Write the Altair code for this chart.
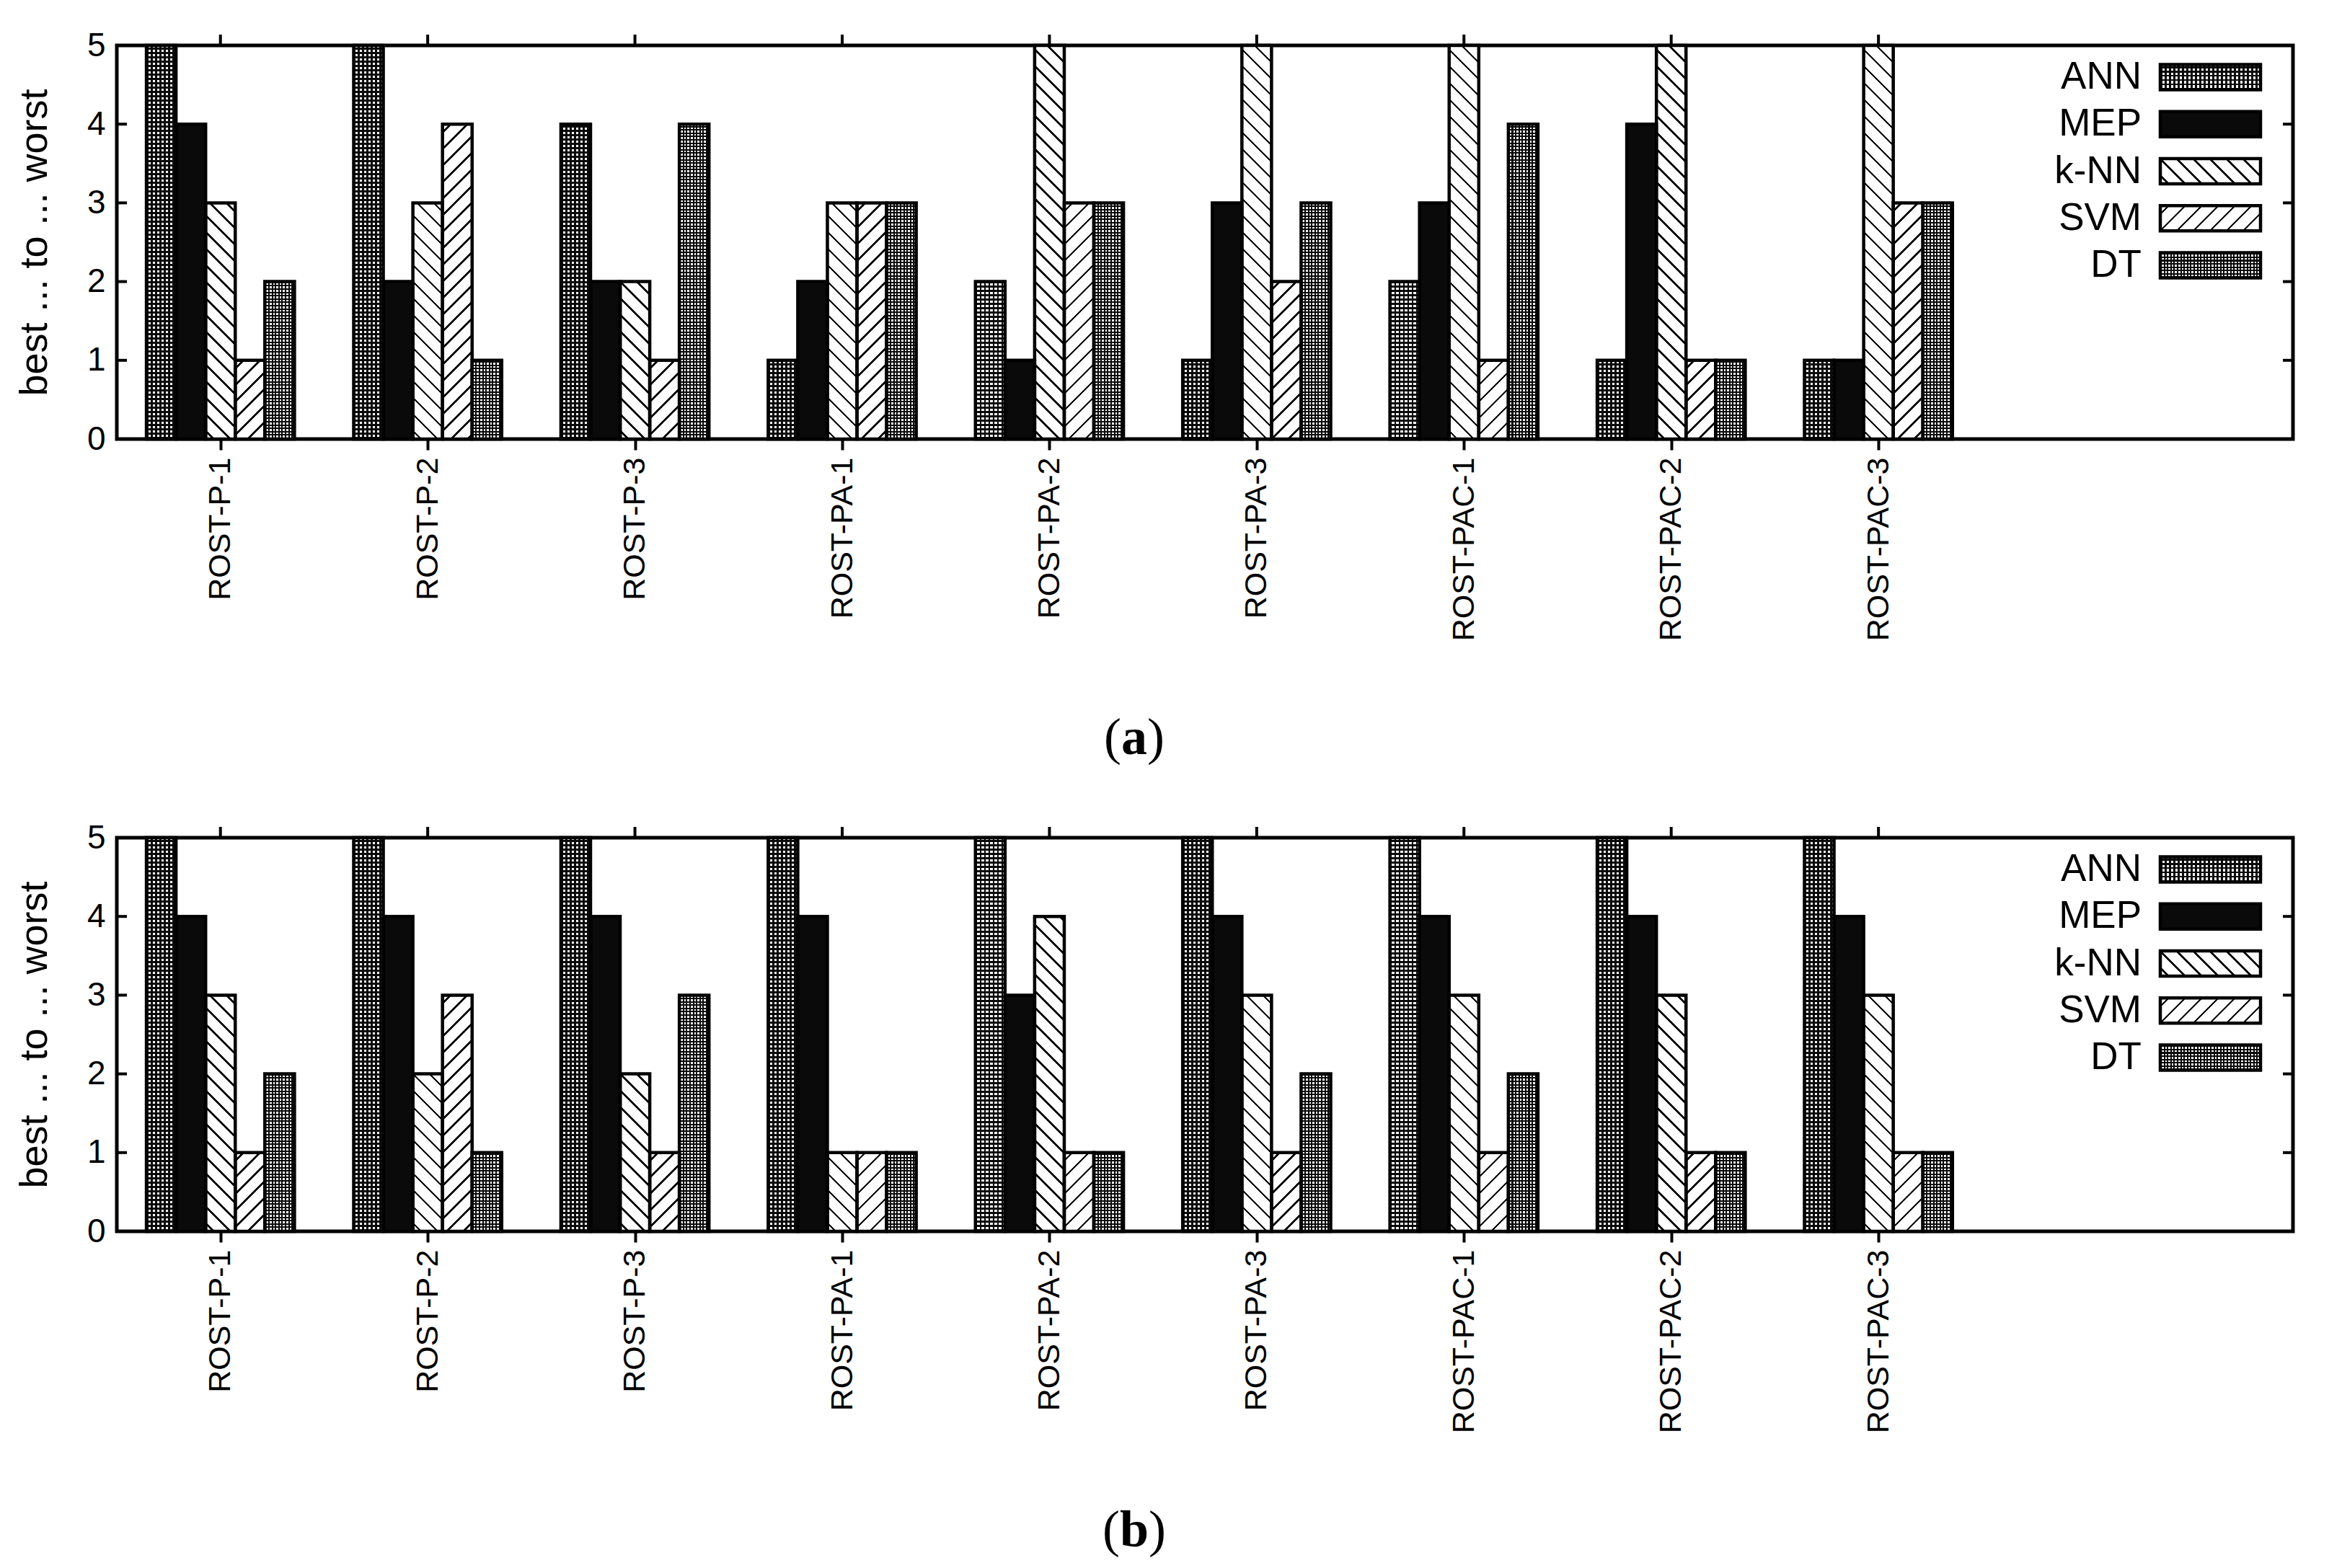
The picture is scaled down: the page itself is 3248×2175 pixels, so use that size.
import altair as alt

# ---------------- data ----------------
SERIES = ["ANN", "MEP", "k-NN", "SVM", "DT"]
DATASETS = ["ROST-P-1", "ROST-P-2", "ROST-P-3", "ROST-PA-1", "ROST-PA-2",
            "ROST-PA-3", "ROST-PAC-1", "ROST-PAC-2", "ROST-PAC-3"]

# panel (a)
A_ANN = [5, 5, 4, 1, 2, 1, 2, 1, 1]
A_MEP = [4, 2, 2, 2, 1, 3, 3, 4, 1]
A_KNN = [3, 3, 2, 3, 5, 5, 5, 5, 5]
A_SVM = [1, 4, 1, 3, 3, 2, 1, 1, 3]
A_DT = [2, 1, 4, 3, 3, 3, 4, 1, 3]

# panel (b)
B_ANN = [5, 5, 5, 5, 5, 5, 5, 5, 5]
B_MEP = [4, 4, 4, 4, 3, 4, 4, 4, 4]
B_KNN = [3, 2, 2, 1, 4, 3, 3, 3, 3]
B_SVM = [1, 3, 1, 1, 1, 1, 1, 1, 1]
B_DT = [2, 1, 3, 1, 1, 2, 2, 1, 1]

Y_TICKS = [0, 1, 2, 3, 4, 5]
Y_TITLE = "best ... to ... worst"

# ---------------- layout / style ----------------
PW, PH = 3018, 546
X_DOMAIN = [-0.5, 10.0]
NB = 7.0                      # 5 bars + gap of 2 bar widths per group
BAR_W = PW / (X_DOMAIN[1] - X_DOMAIN[0]) / NB
UNIT_H = PH / 5.0
SANS = "Liberation Sans"
SERIF = "Liberation Serif"
STROKE = 4.5
TICK = 14

XS = alt.Scale(domain=X_DOMAIN, nice=False, zero=False)
YS = alt.Scale(domain=[0, 5], nice=False, zero=True)

CLEAR = "rgba(255,255,255,0)"
WHITE = "#ffffff"
BLACK = "#0a0a0a"


def make_grad(lines, L, bg, fg, x1, y1, x2, y2):
    st = [(0.0, bg)]
    for a, b in lines:
        a = min(max(a, 0.0), L) / L
        b = min(max(b, 0.0), L) / L
        if b <= a:
            continue
        st += [(a, bg), (a, fg), (b, fg), (b, bg)]
    st.append((1.0, bg))
    return alt.LinearGradient(
        gradient="linear",
        stops=[alt.GradientStop(offset=round(o, 5), color=c) for o, c in st],
        x1=round(x1, 5), y1=round(y1, 5), x2=round(x2, 5), y2=round(y2, 5))


def hatch(W, H, kind, period=23.0, thick=3.4):
    L = W + H
    t = L / (W * W + H * H)
    lines = []
    c = period / 2.0
    while c - thick / 2 < L:
        lines.append((c - thick / 2, c + thick / 2))
        c += period
    if kind == "back":
        return make_grad(lines, L, WHITE, BLACK, 0, 1, t * W, 1 - t * H)
    return make_grad(lines, L, WHITE, BLACK, 0, 0, t * W, t * H)


def checker_v(W, p, a):
    lines = []
    c = 0.0
    while c < W:
        lines.append((c, c + (1 - a) * p))
        c += p
    return make_grad(lines, W, WHITE, BLACK, 0, 0, 1, 0)


def checker_h(H, p, a):
    lines = []
    c = 0.0
    while c < H:
        lines.append((c, c + (1 - a) * p))
        c += p
    return make_grad(lines, H, CLEAR, BLACK, 0, 1, 0, 0)


CHECK = {0: (6.0, 0.56), 4: (4.6, 0.56)}   # ANN, DT

LABEL_EXPR = "[" + ",".join("'%s'" % d for d in DATASETS) + "][datum.value]"

X_AXIS = alt.Axis(values=list(range(len(DATASETS))), labelExpr=LABEL_EXPR,
                  labelAngle=270, labelFont=SANS, labelFontSize=43,
                  labelColor="black", labelPadding=10, labelLimit=1000,
                  tickSize=15, tickWidth=4, tickColor="black", domain=False,
                  grid=False, labelFlush=False, labelOverlap=False, title=None)
Y_AXIS = alt.Axis(values=Y_TICKS, format="d", labelFont=SANS, labelFontSize=46,
                  labelColor="black", labelPadding=16, ticks=False, tickSize=0,
                  domain=False, grid=False, labelFlush=False,
                  title=Y_TITLE, titleFont=SANS, titleFontSize=54,
                  titleFontWeight="normal", titleColor="black", titleAngle=270,
                  titleX=-98, titleY=PH / 2, titleBaseline="alphabetic",
                  titleAlign="center")

# legend placement (pixels inside the plot)
LX0, LX1, LH = 2834, 2973, 35
LEG_Y0, LEG_DY = 44, 65.25
LTX = 2808

CAP_X, CAP_Y, CAP_SIZE = 1411, 983, 72


def rows(vals):
    out = []
    for si in range(len(SERIES)):
        for gi, v in enumerate(vals[si]):
            out.append({"g": gi, "s": si, "v": v})
    return out


def panel(vals, letter):
    data = alt.Data(values=rows(vals))

    def bars(expr, **mark):
        return (alt.Chart(data)
                .transform_calculate(x0="datum.g + (datum.s - 2.5) / %g" % NB,
                                     x1="datum.g + (datum.s - 1.5) / %g" % NB,
                                     y0="0")
                .transform_filter(expr)
                .mark_rect(**mark)
                .encode(x=alt.X("x0:Q", scale=XS, axis=X_AXIS), x2="x1:Q",
                        y=alt.Y("v:Q", scale=YS, axis=Y_AXIS), y2="y0:Q"))

    layers = []
    # MEP solid
    layers.append(bars("datum.s == 1", fill=BLACK))
    # checkered ANN / DT
    for si in (0, 4):
        p, a = CHECK[si]
        layers.append(bars("datum.s == %d" % si, fill=checker_v(BAR_W, p, a)))
        for v in sorted(set(vals[si])):
            layers.append(bars("datum.s == %d && datum.v == %d" % (si, v),
                               fill=checker_h(v * UNIT_H, p, a)))
    # hatched k-NN / SVM
    for si, kind in ((2, "back"), (3, "fwd")):
        for v in sorted(set(vals[si])):
            layers.append(bars("datum.s == %d && datum.v == %d" % (si, v),
                               fill=hatch(BAR_W, v * UNIT_H, kind)))
    # outlines
    layers.append(bars("true", fill="transparent", stroke="black",
                       strokeWidth=STROKE, strokeJoin="miter"))

    # inward y ticks (left and right), outward top x ticks
    tdata = alt.Data(values=[{"t": t} for t in Y_TICKS])
    layers.append(alt.Chart(tdata).mark_rule(color="black", strokeWidth=4).encode(
        y=alt.Y("t:Q", scale=YS, axis=Y_AXIS), x=alt.value(0), x2=alt.value(TICK)))
    layers.append(alt.Chart(tdata).mark_rule(color="black", strokeWidth=4).encode(
        y=alt.Y("t:Q", scale=YS, axis=Y_AXIS), x=alt.value(PW - TICK), x2=alt.value(PW)))
    gdata = alt.Data(values=[{"g": i} for i in range(len(DATASETS))])
    layers.append(alt.Chart(gdata).mark_rule(color="black", strokeWidth=4).encode(
        x=alt.X("g:Q", scale=XS, axis=X_AXIS), y=alt.value(-15), y2=alt.value(0)))

    # legend
    for i, name in enumerate(SERIES):
        cy = LEG_Y0 + i * LEG_DY
        d = alt.Data(values=[{"n": name}])

        def sw(**mark):
            return alt.Chart(d).mark_rect(**mark).encode(
                x=alt.value(LX0), x2=alt.value(LX1),
                y=alt.value(cy - LH / 2), y2=alt.value(cy + LH / 2))

        W, H = LX1 - LX0, LH
        if i == 1:
            layers.append(sw(fill=BLACK))
        elif i in (0, 4):
            p, a = CHECK[i]
            layers.append(sw(fill=checker_v(W, p, a)))
            layers.append(sw(fill=checker_h(H, p, a)))
        elif i == 2:
            layers.append(sw(fill=hatch(W, H, "back")))
        else:
            layers.append(sw(fill=hatch(W, H, "fwd")))
        layers.append(sw(fill="transparent", stroke="black", strokeWidth=STROKE,
                         strokeJoin="miter"))
        layers.append(alt.Chart(d).mark_text(
            align="right", baseline="middle", font=SANS, fontSize=53,
            color="black").encode(x=alt.value(LTX), y=alt.value(cy),
                                  text=alt.Text("n:N")))

    # caption "(a)" / "(b)"
    cd = alt.Data(values=[{"c": letter}])
    lw = 0.5 * CAP_SIZE if letter == "a" else 0.556 * CAP_SIZE
    layers.append(alt.Chart(cd).mark_text(
        align="center", baseline="alphabetic", font=SERIF, fontSize=CAP_SIZE,
        fontWeight="bold", color="black").encode(
        x=alt.value(CAP_X), y=alt.value(CAP_Y), text=alt.Text("c:N")))
    layers.append(alt.Chart(cd).mark_text(
        align="right", baseline="alphabetic", font=SERIF, fontSize=CAP_SIZE,
        color="black").encode(
        x=alt.value(CAP_X - lw / 2), y=alt.value(CAP_Y), text=alt.value("(")))
    layers.append(alt.Chart(cd).mark_text(
        align="left", baseline="alphabetic", font=SERIF, fontSize=CAP_SIZE,
        color="black").encode(
        x=alt.value(CAP_X + lw / 2), y=alt.value(CAP_Y), text=alt.value(")")))

    return alt.layer(*layers).properties(width=PW, height=PH)


panel_a = panel([A_ANN, A_MEP, A_KNN, A_SVM, A_DT], "a")
panel_b = panel([B_ANN, B_MEP, B_KNN, B_SVM, B_DT], "b")

chart = (alt.vconcat(panel_a, panel_b, spacing=73)
         .properties(padding={"left": 10, "top": 29, "right": 5, "bottom": 5},
                     background="white")
         .configure_view(stroke="black", strokeWidth=5)
         .configure_axis(labelFont=SANS, titleFont=SANS))

chart.save("out.html", embed_options={"renderer": "svg", "actions": False})
